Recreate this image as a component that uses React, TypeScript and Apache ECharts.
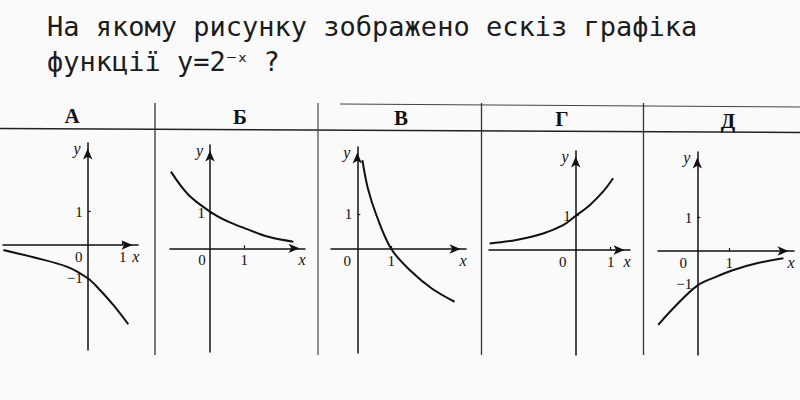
import React, { useEffect, useRef } from "react";
import * as echarts from "echarts";

// ---- data ----
const titleLine1 = "На якому рисунку зображено ескіз графіка";
const titleLine2Start = "функції y=2";
const titleLine2Sup = "⁻ˣ";
const titleLine2End = " ?";
const panelNames = ["А", "Б", "В", "Г", "Д"];

const curveAx = [-2.41, -1.55, -0.6, 0, 0.35, 0.73, 1.16];
const curveAy = [-0.15, -0.37, -0.65, -1.0, -1.35, -1.8, -2.38];
const curveBx = [-1.14, -0.63, 0, 0.53, 1.02, 1.7, 2.43];
const curveBy = [2.19, 1.53, 1.05, 0.76, 0.57, 0.33, 0.19];
const curveVx = [0.15, 0.31, 0.56, 1.0, 1.59, 2.18, 2.86];
const curveVy = [2.56, 1.75, 0.98, 0, -0.65, -1.13, -1.52];
const curveGx = [-2.46, -1.7, -0.93, -0.36, 0, 0.4, 0.78, 1.07];
const curveGy = [0.19, 0.29, 0.48, 0.72, 0.99, 1.3, 1.69, 2.08];
const curveDx = [-1.22, -0.75, 0, 0.6, 1.13, 1.86, 2.69];
const curveDy = [-2.22, -1.72, -1.04, -0.77, -0.57, -0.37, -0.22];

const xTickValues = [1];
const xLabelValues = [0, 1];
const yTickValues = [1];
const yLabelValuesA = [1, -1];
const yLabelValuesB = [1];
const yLabelValuesV = [1];
const yLabelValuesG = [1];
const yLabelValuesD = [1, -1];

const curvesX = [curveAx, curveBx, curveVx, curveGx, curveDx];
const curvesY = [curveAy, curveBy, curveVy, curveGy, curveDy];
const yLabelSets = [yLabelValuesA, yLabelValuesB, yLabelValuesV, yLabelValuesG, yLabelValuesD];

// ---- layout (pixels) ----
const layout = [
  { ox: 87.7, oy: 245, sx: 35, sy: 33.3, left: 3, right: 138, top: 143, bottom: 350, zs: 9, hx: 72, hy: 116 },
  { ox: 210, oy: 248.3, sx: 34.3, sy: 35, left: 170, right: 305, top: 145, bottom: 352, zs: 8, hx: 240, hy: 117 },
  { ox: 357.3, oy: 249, sx: 34, sy: 34.7, left: 331, right: 466, top: 147, bottom: 353, zs: 10, hx: 401, hy: 118 },
  { ox: 575.7, oy: 250, sx: 35, sy: 34.5, left: 489, right: 630, top: 151, bottom: 355, zs: 13, hx: 562, hy: 119 },
  { ox: 697.3, oy: 251, sx: 32, sy: 33.3, left: 658, right: 794, top: 152, bottom: 355, zs: 14, hx: 728, hy: 121 },
];

const INK = "#111";
const SERIF = "Liberation Serif";
const MONO = "DejaVu Sans Mono";

export default function App() {
  const ref = useRef<HTMLDivElement>(null);

  useEffect(() => {
    if (!ref.current) return;
    const chart = echarts.init(ref.current, null, { renderer: "svg" });

    const grids: any[] = [];
    const xAxes: any[] = [];
    const yAxes: any[] = [];
    const series: any[] = [];

    layout.forEach((p, i) => {
      grids.push({
        left: p.left,
        top: p.top,
        width: p.right - p.left,
        height: p.bottom - p.top,
        show: false,
      });
      const lineStyle = { color: INK, width: 1.5 };
      xAxes.push({
        type: "value",
        gridIndex: i,
        position: "bottom",
        offset: -(p.bottom - p.oy),
        min: (p.left - p.ox) / p.sx,
        max: (p.right - p.ox) / p.sx,
        splitLine: { show: false },
        axisLine: {
          onZero: false,
          lineStyle,
          symbol: ["none", "arrow"],
          symbolSize: [7, 11],
          symbolOffset: [0, -5.5],
        },
        axisTick: { show: true, customValues: xTickValues, length: 3, inside: true, lineStyle: { color: INK, width: 1.2 } },
        axisLabel: {
          customValues: xLabelValues,
          margin: 4,
          color: INK,
          fontFamily: SERIF,
          fontSize: 15,
          formatter: (v: number) => (v === 0 ? "{z|0}" : "{n|" + v + "}"),
          rich: {
            z: { padding: [0, 2 * p.zs, 0, 0], color: INK, fontFamily: SERIF, fontSize: 15 },
            n: { color: INK, fontFamily: SERIF, fontSize: 15 },
          },
        },
        name: "x",
        nameLocation: "end",
        nameGap: -3,
        nameTextStyle: {
          color: INK,
          fontFamily: SERIF,
          fontStyle: "italic",
          fontSize: 16,
          align: "center",
          verticalAlign: "top",
          padding: [3, 0, 0, 0],
        },
      });
      yAxes.push({
        type: "value",
        gridIndex: i,
        position: "left",
        offset: -(p.ox - p.left),
        min: (p.oy - p.bottom) / p.sy,
        max: (p.oy - p.top) / p.sy,
        splitLine: { show: false },
        axisLine: {
          onZero: false,
          lineStyle,
          symbol: ["none", "arrow"],
          symbolSize: [7, 11],
          symbolOffset: [0, -5.5],
        },
        axisTick: { show: true, customValues: yTickValues, length: 3, inside: true, lineStyle: { color: INK, width: 1.2 } },
        axisLabel: {
          customValues: yLabelSets[i],
          margin: 5,
          color: INK,
          fontFamily: SERIF,
          fontSize: 15,
          formatter: (v: number) => (v < 0 ? "\u2212" + Math.abs(v) : String(v)),
        },
        name: "y",
        nameLocation: "end",
        nameGap: -5,
        nameTextStyle: {
          color: INK,
          fontFamily: SERIF,
          fontStyle: "italic",
          fontSize: 16,
          align: "right",
          verticalAlign: "middle",
          padding: [0, 7, 0, 0],
        },
      });
      series.push({
        type: "line",
        xAxisIndex: i,
        yAxisIndex: i,
        data: curvesX[i].map((x, j) => [x, curvesY[i][j]]),
        smooth: 0.35,
        showSymbol: false,
        symbol: "none",
        silent: true,
        lineStyle: { color: INK, width: 2 },
        z: 3,
      });
    });

    const graphic: any[] = [
      { type: "line", shape: { x1: 0, y1: 128.5, x2: 800, y2: 132.5 }, style: { stroke: "#222", lineWidth: 1.5 } },
      { type: "line", shape: { x1: 340, y1: 104, x2: 800, y2: 107 }, style: { stroke: "#444", lineWidth: 1 } },
      { type: "line", shape: { x1: 155, y1: 103, x2: 155, y2: 355 }, style: { stroke: "#333", lineWidth: 1.3 } },
      { type: "line", shape: { x1: 318, y1: 103, x2: 318, y2: 355 }, style: { stroke: "#555", lineWidth: 1.3 } },
      { type: "line", shape: { x1: 481.5, y1: 103, x2: 481.5, y2: 355 }, style: { stroke: "#333", lineWidth: 1.3 } },
      { type: "line", shape: { x1: 643.5, y1: 103, x2: 643.5, y2: 355 }, style: { stroke: "#333", lineWidth: 1.3 } },
    ];
    panelNames.forEach((n, i) => {
      graphic.push({
        type: "text",
        x: layout[i].hx,
        y: layout[i].hy,
        style: {
          text: n,
          fill: INK,
          font: `bold 21px "${SERIF}"`,
          textAlign: "center",
          textVerticalAlign: "middle",
        },
      });
    });

    chart.setOption({
      animation: false,
      backgroundColor: "#fafafa",
      title: {
        text: titleLine1 + "\n" + titleLine2Start + "{s|" + titleLine2Sup + "}" + titleLine2End,
        left: 42,
        top: 4,
        textStyle: {
          fontFamily: MONO,
          fontSize: 27,
          fontWeight: "normal",
          color: "#1c1c1c",
          lineHeight: 35,
          rich: {
            s: { fontFamily: "DejaVu Sans", fontSize: 22, color: "#1c1c1c", lineHeight: 35 },
          },
        },
      },
      grid: grids,
      xAxis: xAxes,
      yAxis: yAxes,
      series,
      graphic,
    });

    return () => chart.dispose();
  }, []);

  return <div ref={ref} style={{ position: "absolute", left: 0, top: 0, width: 800, height: 400 }} />;
}
